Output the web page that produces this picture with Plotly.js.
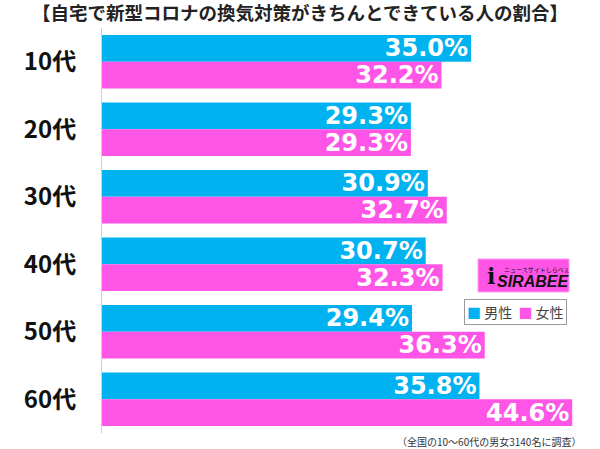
<!DOCTYPE html>
<html>
<head>
<meta charset="utf-8">
<script src="https://cdn.plot.ly/plotly-3.0.1.min.js"></script>
<style>html,body{margin:0;padding:0;background:#fff;}#chart{width:600px;height:449px;}</style>
</head>
<body>
<div id="chart"></div>
<script>
const categories = ['10代', '20代', '30代', '40代', '50代', '60代'];
const maleValues = [35.0, 29.3, 30.9, 30.7, 29.4, 35.8];
const femaleValues = [32.2, 29.3, 32.7, 32.3, 36.3, 44.6];
const seriesNames = ['男性', '女性'];
const seriesColors = ['#00B2F0', '#FF55E6'];
const titleText = '【自宅で新型コロナの換気対策がきちんとできている人の割合】';
const noteText = '（全国の10〜60代の男女3140名に調査）';

const W = 600, H = 449;
const L = 102, R = 13, T = 28, B = 16;
const pw = W - L - R, ph = H - T - B;
const px = x => (x - L) / pw;
const py = y => (H - B - y) / ph;

const labelFont = {family: 'DejaVu Sans', size: 24, color: '#ffffff', weight: 'bold'};

function barTrace(name, values, color) {
  return {
    type: 'bar', orientation: 'h', name: name,
    y: categories, x: values,
    marker: {color: color},
    texttemplate: '%{x:.1f}%',
    textposition: 'inside', insidetextanchor: 'end', constraintext: 'none',
    textfont: labelFont,
    hoverinfo: 'skip', showlegend: false
  };
}

const data = [
  barTrace(seriesNames[0], maleValues, seriesColors[0]),
  barTrace(seriesNames[1], femaleValues, seriesColors[1])
];

const legendText = seriesNames.map((n, i) =>
  '<span style="color:' + seriesColors[i] + '">■</span> ' + n).join('  ');

const layout = {
  width: W, height: H,
  margin: {l: L, r: R, t: T, b: B, autoexpand: false},
  paper_bgcolor: '#ffffff', plot_bgcolor: '#ffffff',
  barmode: 'group', bargap: 0.21, bargroupgap: 0,
  showlegend: false,
  title: {text: titleText, x: 0.5, xanchor: 'center', xref: 'container', y: 1 - 14 / H, yanchor: 'middle', yref: 'container',
    font: {family: 'Noto Sans CJK JP', size: 18.5, color: '#222', weight: 'bold'}},
  xaxis: {range: [0, 46], showgrid: false, zeroline: false, showticklabels: false, showline: false, fixedrange: true},
  yaxis: {autorange: 'reversed', showgrid: false, zeroline: false, showline: true, linecolor: '#d0d0d0', linewidth: 1,
    ticks: '', ticklabelstandoff: 20, automargin: false,
    tickfont: {family: 'Noto Sans CJK JP', size: 24, color: '#111', weight: 'bold'}},
  shapes: [
    {type: 'rect', xref: 'paper', yref: 'paper', x0: px(478), x1: px(569), y0: py(292), y1: py(259),
      fillcolor: '#FF55E6', line: {color: '#ff9cf0', width: 1}}
  ],
  annotations: [
    {xref: 'paper', yref: 'paper', x: px(515.5), y: py(311.5), xanchor: 'center', yanchor: 'middle', showarrow: false,
      text: legendText, bordercolor: '#999', borderwidth: 1, borderpad: 2, bgcolor: '#fff',
      font: {family: 'Noto Sans CJK JP', size: 14, color: '#444'}},
    {xref: 'paper', yref: 'paper', x: px(583), y: py(441), xanchor: 'right', yanchor: 'middle', showarrow: false,
      text: noteText, font: {family: 'Noto Sans CJK JP', size: 10, color: '#333'}},
    {xref: 'paper', yref: 'paper', x: px(533), y: py(281), xanchor: 'center', yanchor: 'middle', showarrow: false,
      text: '<b><i>SIRABEE</i></b>', font: {family: 'Liberation Sans', size: 16, color: '#111'}},
    {xref: 'paper', yref: 'paper', x: px(537), y: py(269), xanchor: 'center', yanchor: 'middle', showarrow: false,
      text: 'ニュースサイトしらべぇ', font: {family: 'Noto Sans CJK JP', size: 6, color: '#111'}},
    {xref: 'paper', yref: 'paper', x: px(491), y: py(276), xanchor: 'center', yanchor: 'middle', showarrow: false,
      text: '<b>i</b>', font: {family: 'DejaVu Serif', size: 22, color: '#111'}}
  ]
};

Plotly.newPlot('chart', data, layout, {displayModeBar: false, staticPlot: true});
</script>
</body>
</html>
